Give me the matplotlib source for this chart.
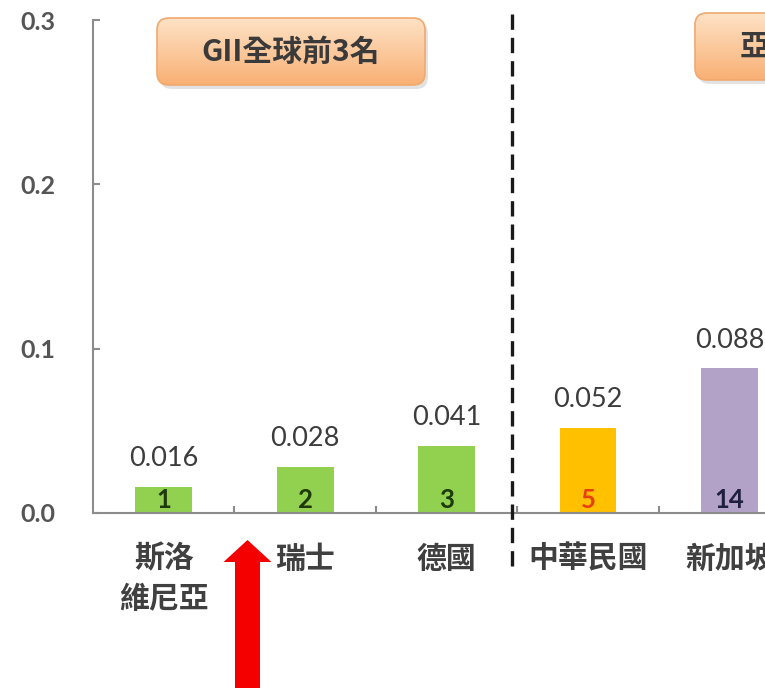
import numpy as np
import matplotlib.pyplot as plt
from matplotlib.patches import FancyBboxPatch, FancyArrow

countries = ['斯洛\n維尼亞', '瑞士', '德國', '中華民國', '新加坡']
values = [0.016, 0.028, 0.041, 0.052, 0.088]
ranks = ['1', '2', '3', '5', '14']
bar_colors = ['#92D050', '#92D050', '#92D050', '#FFC000', '#B3A2C7']
rank_colors = ['#1E3A0A', '#1E3A0A', '#1E3A0A', '#E8400C', '#1F2040']
y_ticks = [0.0, 0.1, 0.2, 0.3]
group_titles = ['GII全球前3名', '亞']
divider = 2.46

cjk = ['Noto Sans CJK TC', 'DejaVu Sans']
W, H = 765, 688

fig = plt.figure(figsize=(W / 100, H / 100), dpi=100)
fig.patch.set_facecolor('white')
ax = fig.add_axes([93 / W, 175 / H, 672 / W, 493 / H])

x = np.arange(len(countries))
ax.bar(x, values, width=0.4, color=bar_colors, zorder=2)

for i, v in enumerate(values):
    ax.annotate(f'{v:.3f}', (i, v), xytext=(0, 15), textcoords='offset points',
                ha='center', va='baseline', fontsize=19.5, family='Lato',
                color='#3c3c3c')
    ax.annotate(ranks[i], (i, 0), xytext=(0, 3.5), textcoords='offset points',
                ha='center', va='baseline', fontsize=18.5, family='Lato',
                fontweight='bold', color=rank_colors[i], zorder=3)

# group divider
ax.plot([divider, divider], [-0.032, 0.308], clip_on=False, color='#1a1a1a',
        lw=2.4, linestyle=(0, (4.6, 2.4)), zorder=4)

ax.set_xlim(-0.5, 4.25)
ax.set_ylim(0, 0.3)

ax.set_yticks(y_ticks)
ax.set_yticklabels([f'{t:.1f}' for t in y_ticks], family='Lato',
                   fontweight='bold', fontsize=18, color='#555555')
ax.tick_params(axis='y', direction='in', length=5, width=1.5, color='#8c8c8c', pad=27)

ax.set_xticks(x)
ax.set_xticklabels(countries, family=cjk, fontweight='bold', fontsize=21.5,
                   color='#404040', linespacing=1.45)
ax.set_xticks(x[:-1] + 0.5, minor=True)
ax.tick_params(axis='x', which='major', length=0, pad=22)
ax.tick_params(axis='x', which='minor', direction='in', length=5, width=1.5, color='#8c8c8c')

for s in ['top', 'right']:
    ax.spines[s].set_visible(False)
for s in ['left', 'bottom']:
    ax.spines[s].set_color('#8c8c8c')
    ax.spines[s].set_linewidth(1.5)

# overlay in pixel coordinates for the callout boxes and the arrow
ov = fig.add_axes([0, 0, 1, 1], zorder=5)
ov.set_xlim(0, W)
ov.set_ylim(H, 0)
ov.axis('off')
ov.patch.set_alpha(0)

grad = np.linspace(0, 1, 64).reshape(-1, 1)
top = np.array([254, 226, 198]) / 255
bot = np.array([249, 176, 116]) / 255
grad_img = top + (bot - top) * grad[..., None]

def callout(x0, y0, w, h, text, tx, ha):
    shadow = FancyBboxPatch((x0 + 3, y0 + 4), w, h, boxstyle='round,pad=0,rounding_size=12',
                            facecolor='#cfcfcf', edgecolor='none', alpha=0.6)
    ov.add_patch(shadow)
    box = FancyBboxPatch((x0, y0), w, h, boxstyle='round,pad=0,rounding_size=12',
                         facecolor='none', edgecolor='#f0a96e', lw=1.2)
    ov.add_patch(box)
    im = ov.imshow(grad_img, extent=(x0, x0 + w, y0 + h, y0), aspect='auto', zorder=1)
    im.set_clip_path(box)
    box.set_zorder(2)
    ov.text(tx, y0 + h / 2, text, ha=ha, va='center', family=cjk, fontsize=21.5,
            fontweight='bold', color='#3a3a3a', zorder=3)

callout(157, 18, 268, 67, group_titles[0], 291, 'center')
callout(695, 13, 220, 67, group_titles[1], 740, 'left')

ov.add_patch(FancyArrow(247.5, 690, 0, -150, width=25, head_width=48, head_length=22,
                        length_includes_head=True, facecolor='#F50000', edgecolor='none'))

ov.set_xlim(0, W)
ov.set_ylim(H, 0)

fig.savefig('out.png', dpi=100, facecolor='white')
